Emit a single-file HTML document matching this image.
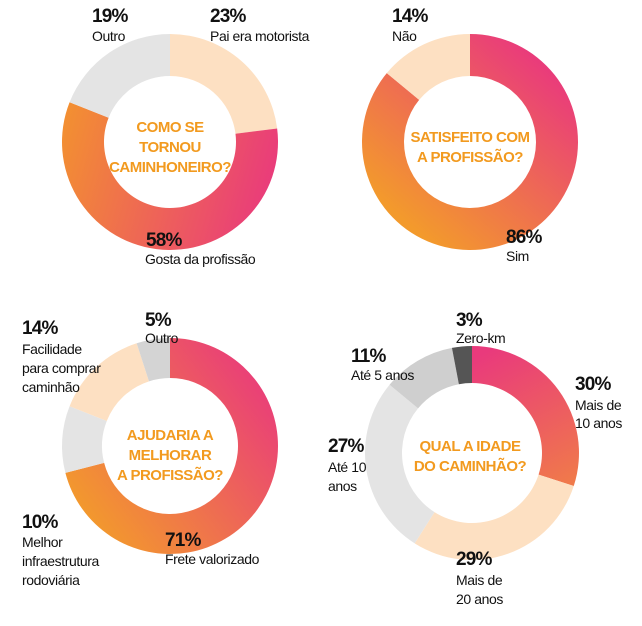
<!DOCTYPE html>
<html><head><meta charset="utf-8">
<style>
html,body{margin:0;padding:0;background:#fff;}
svg{display:block;}
text{font-family:"Liberation Sans",sans-serif;}
.p{font-weight:bold;font-size:19px;fill:#111;letter-spacing:-0.8px}
.l{font-size:14px;fill:#111;letter-spacing:-0.4px}
.t{font-weight:bold;font-size:15px;fill:#f29a1f;text-anchor:middle;letter-spacing:-0.5px}
</style></head><body>
<svg id="s" width="642" height="626" viewBox="0 0 642 626" xmlns="http://www.w3.org/2000/svg">
<defs>
<linearGradient id="g1" gradientUnits="userSpaceOnUse" x1="280" y1="170" x2="62" y2="110"><stop offset="0" stop-color="#e93a7c"/><stop offset="1" stop-color="#f39130"/></linearGradient>
<linearGradient id="g2" gradientUnits="userSpaceOnUse" x1="520" y1="40" x2="380" y2="200"><stop offset="0" stop-color="#e93a7c"/><stop offset="1" stop-color="#f39a2c"/></linearGradient>
<linearGradient id="g3" gradientUnits="userSpaceOnUse" x1="260" y1="360" x2="70" y2="500"><stop offset="0" stop-color="#e93a7c"/><stop offset="1" stop-color="#f39a2c"/></linearGradient>
<linearGradient id="g4" gradientUnits="userSpaceOnUse" x1="490" y1="350" x2="560" y2="490"><stop offset="0" stop-color="#e93a7c"/><stop offset="1" stop-color="#f07a4a"/></linearGradient>
</defs>
<g id="arcs"></g>
<text class="p" x="92" y="22">19%</text><text class="l" x="92" y="41">Outro</text>
<text class="p" x="210" y="22">23%</text><text class="l" x="210" y="41">Pai era motorista</text>
<text class="t" x="170" y="132">COMO SE</text><text class="t" x="170" y="152">TORNOU</text><text class="t" x="170" y="172">CAMINHONEIRO?</text>
<text class="p" x="146" y="246">58%</text><text class="l" x="145" y="264">Gosta da profissão</text>

<text class="p" x="392" y="22">14%</text><text class="l" x="392" y="41">Não</text>
<text class="t" x="470" y="142">SATISFEITO COM</text><text class="t" x="470" y="162">A PROFISSÃO?</text>
<text class="p" x="506" y="243">86%</text><text class="l" x="506" y="261">Sim</text>

<text class="p" x="22" y="334">14%</text><text class="l" x="22" y="354">Facilidade</text><text class="l" x="22" y="373">para comprar</text><text class="l" x="22" y="392">caminhão</text>
<text class="p" x="145" y="326">5%</text><text class="l" x="145" y="343">Outro</text>
<text class="t" x="170" y="440">AJUDARIA A</text><text class="t" x="170" y="460">MELHORAR</text><text class="t" x="170" y="480">A PROFISSÃO?</text>
<text class="p" x="22" y="528">10%</text><text class="l" x="22" y="547">Melhor</text><text class="l" x="22" y="566">infraestrutura</text><text class="l" x="22" y="585">rodoviária</text>
<text class="p" x="165" y="546">71%</text><text class="l" x="165" y="564">Frete valorizado</text>

<text class="p" x="456" y="326">3%</text><text class="l" x="456" y="343">Zero-km</text>
<text class="p" x="351" y="362">11%</text><text class="l" x="351" y="380">Até 5 anos</text>
<text class="t" x="470" y="451">QUAL A IDADE</text><text class="t" x="470" y="471">DO CAMINHÃO?</text>
<text class="p" x="575" y="390">30%</text><text class="l" x="575" y="410">Mais de</text><text class="l" x="575" y="428">10 anos</text>
<text class="p" x="328" y="452">27%</text><text class="l" x="328" y="472">Até 10</text><text class="l" x="328" y="491">anos</text>
<text class="p" x="456" y="565">29%</text><text class="l" x="456" y="585">Mais de</text><text class="l" x="456" y="604">20 anos</text>
</svg>
<script>
var charts=[
 {cx:170,cy:142,R:108,r:66,s:[[23,'#fde0c2'],[58,'url(#g1)'],[19,'#e4e4e4']]},
 {cx:470,cy:142,R:108,r:66,s:[[86,'url(#g2)'],[14,'#fde0c2']]},
 {cx:170,cy:446,R:108,r:68,s:[[71,'url(#g3)'],[10,'#e4e4e4'],[14,'#fde0c2'],[5,'#d4d4d4']]},
 {cx:472,cy:453,R:107,r:70,s:[[30,'url(#g4)'],[29,'#fde0c2'],[27,'#e4e4e4'],[11,'#cfcfcf'],[3,'#555']]}
];
var g=document.getElementById('arcs'),h='';
charts.forEach(function(c){var a=0;c.s.forEach(function(x){
 var a0=a/100*2*Math.PI,a1=(a+x[0])/100*2*Math.PI;a+=x[0];
 function p(rr,t){return (c.cx+rr*Math.sin(t)).toFixed(2)+' '+(c.cy-rr*Math.cos(t)).toFixed(2);}
 var lg=x[0]>50?1:0;
 h+='<path fill="'+x[1]+'" d="M'+p(c.R,a0)+' A'+c.R+' '+c.R+' 0 '+lg+' 1 '+p(c.R,a1)+' L'+p(c.r,a1)+' A'+c.r+' '+c.r+' 0 '+lg+' 0 '+p(c.r,a0)+'Z"/>';
});});
g.innerHTML=h;
</script>
</body></html>
